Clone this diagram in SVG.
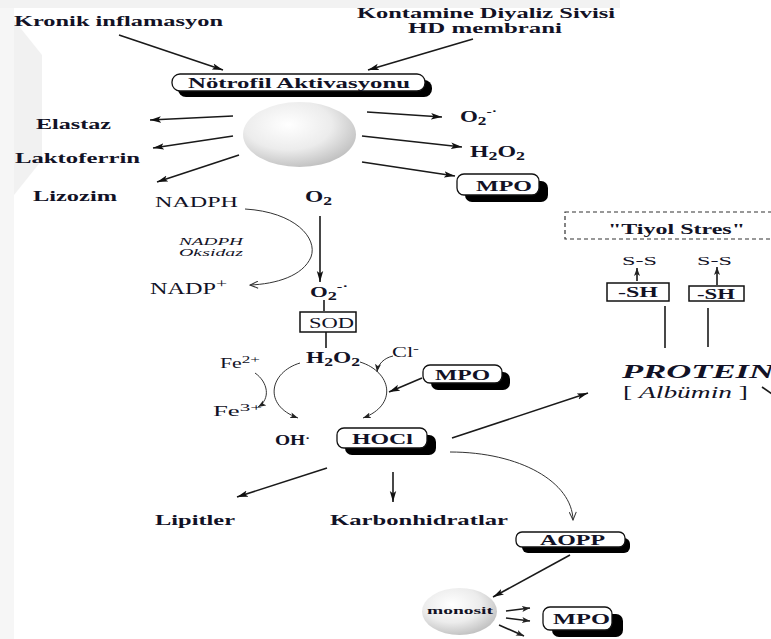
<svg xmlns="http://www.w3.org/2000/svg" width="771" height="639" viewBox="0 0 771 639">
<defs>
<style>
text{font-family:"Liberation Serif","Times New Roman",serif;fill:#121226}
.b{font-weight:bold}
.i{font-style:italic}
.ln{stroke:#1a1a1a;stroke-width:1.6;fill:none}
.thin{stroke:#333;stroke-width:1;fill:none}
.box{fill:#fff;stroke:#111;stroke-width:1.3}
.sh{fill:#000}
.sq{fill:#fff;stroke:#111;stroke-width:1.5}
</style>
<marker id="ah" markerUnits="userSpaceOnUse" markerWidth="12" markerHeight="8" refX="11" refY="4" orient="auto">
<path d="M0,0.8 L11,4 L0,7.2 L2.5,4 z" fill="#111"/>
</marker>
<marker id="ahs" markerUnits="userSpaceOnUse" markerWidth="9" markerHeight="7" refX="8" refY="3.5" orient="auto">
<path d="M0,0.5 L8,3.5 L0,6.5 L2,3.5 z" fill="#222"/>
</marker>
<marker id="ao" markerUnits="userSpaceOnUse" markerWidth="10" markerHeight="8" refX="9" refY="4" orient="auto">
<path d="M1,0.5 L9,4 L1,7.5" fill="none" stroke="#333" stroke-width="1"/>
</marker>
<radialGradient id="sph" cx="40%" cy="35%" r="70%">
<stop offset="0" stop-color="#ffffff"/>
<stop offset="0.55" stop-color="#ececec"/>
<stop offset="1" stop-color="#bdbdbd"/>
</radialGradient>
</defs>

<rect x="0" y="0" width="771" height="639" fill="#ffffff"/>
<rect x="0" y="0" width="14" height="639" fill="#f6f6f6"/>
<rect x="0" y="0" width="620" height="8" fill="#f2f2f2"/>
<polygon points="14,20 42,55 42,160 14,195" fill="#f1f1f1"/>

<g id="connectors">
<line class="ln" x1="119" y1="35" x2="223" y2="70" marker-end="url(#ah)"/>
<line class="ln" x1="473" y1="39" x2="368" y2="70" marker-end="url(#ah)"/>
<line class="ln" x1="233" y1="116" x2="150" y2="120" marker-end="url(#ah)"/>
<line class="ln" x1="233" y1="136" x2="153" y2="148" marker-end="url(#ah)"/>
<line class="ln" x1="239" y1="155" x2="157" y2="182" marker-end="url(#ah)"/>
<line class="ln" x1="367" y1="112" x2="442" y2="117" marker-end="url(#ah)"/>
<line class="ln" x1="362" y1="136" x2="462" y2="147" marker-end="url(#ah)"/>
<line class="ln" x1="362" y1="162" x2="455" y2="176" marker-end="url(#ah)"/>
<line class="ln" x1="320" y1="216" x2="320" y2="282" marker-end="url(#ah)"/>
<path class="thin" d="M245,209 C295,212 318,238 311,257 C303,276 276,284 250,285" marker-end="url(#ao)"/>
<line class="ln" x1="324" y1="300" x2="324" y2="311"/>
<line class="ln" x1="326" y1="332" x2="326" y2="348"/>
<path class="thin" d="M255,373 C268,382 271,399 258,407" marker-end="url(#ahs)"/>
<path class="thin" d="M300,363 C270,372 262,405 298,418" marker-end="url(#ahs)"/>
<path class="thin" d="M360,362 C392,372 398,405 363,418" marker-end="url(#ahs)"/>
<path class="thin" d="M393,356 C384,358 378,364 377,372" marker-end="url(#ahs)"/>
<line class="ln" x1="422" y1="378" x2="389" y2="392" marker-end="url(#ah)"/>
<line class="ln" x1="452" y1="438" x2="588" y2="393" marker-end="url(#ah)"/>
<line class="ln" x1="327" y1="468" x2="237" y2="497" marker-end="url(#ah)"/>
<line class="ln" x1="393" y1="472" x2="393" y2="502" marker-end="url(#ah)"/>
<path class="thin" d="M450,452 C520,452 572,482 573,520" marker-end="url(#ao)"/>
<line class="ln" x1="570" y1="555" x2="493" y2="597" marker-end="url(#ah)"/>
<line class="ln" x1="506" y1="611" x2="530" y2="608" marker-end="url(#ahs)"/>
<line class="ln" x1="506" y1="618" x2="530" y2="621" marker-end="url(#ahs)"/>
<line class="ln" x1="499" y1="625" x2="524" y2="636" marker-end="url(#ahs)"/>
<line class="ln" x1="637" y1="281" x2="637" y2="268" marker-end="url(#ahs)"/>
<line class="ln" x1="717" y1="285" x2="717" y2="267" marker-end="url(#ahs)"/>
<line class="ln" x1="665" y1="306" x2="665" y2="348"/>
<line class="ln" x1="708" y1="308" x2="708" y2="347"/>
<line class="ln" x1="762" y1="387" x2="772" y2="394"/>
</g>

<g id="kronik"><text class="b" x="14" y="26" font-size="15" textLength="209" lengthAdjust="spacingAndGlyphs">Kronik inflamasyon</text></g>
<g id="kontamine">
<text class="b" x="357" y="18" font-size="14" textLength="258" lengthAdjust="spacingAndGlyphs">Kontamine Diyaliz Sivisi</text>
<text class="b" x="408" y="33" font-size="15" textLength="154" lengthAdjust="spacingAndGlyphs">HD membrani</text>
</g>
<g id="notrofil">
<rect class="sh" x="178" y="80" width="254" height="17" rx="8"/>
<rect class="box" x="172" y="74" width="253" height="17" rx="8"/>
<text class="b" x="188" y="88" font-size="14" textLength="222" lengthAdjust="spacingAndGlyphs">Nötrofil Aktivasyonu</text>
</g>
<g id="notrofil-cell"><ellipse cx="299.5" cy="134.5" rx="56.5" ry="32.5" fill="url(#sph)"/></g>
<g id="elastaz"><text class="b" x="36" y="129" font-size="14" textLength="75" lengthAdjust="spacingAndGlyphs">Elastaz</text></g>
<g id="laktoferrin"><text class="b" x="15" y="163" font-size="14" textLength="125" lengthAdjust="spacingAndGlyphs">Laktoferrin</text></g>
<g id="lizozim"><text class="b" x="33" y="201" font-size="14" textLength="84" lengthAdjust="spacingAndGlyphs">Lizozim</text></g>
<g id="o2rad1"><text class="b" x="460" y="122" font-size="16" textLength="37" lengthAdjust="spacingAndGlyphs">O<tspan font-size="12" baseline-shift="-3">2</tspan><tspan font-size="11" baseline-shift="7">-·</tspan></text></g>
<g id="h2o2a"><text class="b" x="470" y="157" font-size="16" textLength="55" lengthAdjust="spacingAndGlyphs">H<tspan font-size="12" baseline-shift="-3">2</tspan>O<tspan font-size="12" baseline-shift="-3">2</tspan></text></g>
<g id="mpo1">
<rect class="sh" x="465" y="181" width="83" height="21" rx="7"/>
<rect class="box" x="457" y="174" width="82" height="21" rx="7"/>
<text class="b" x="476" y="191" font-size="15" textLength="56" lengthAdjust="spacingAndGlyphs">MPO</text>
</g>
<g id="nadph"><text x="155" y="207" font-size="15" textLength="83" lengthAdjust="spacingAndGlyphs">NADPH</text></g>
<g id="o2"><text class="b" x="305" y="202" font-size="16" textLength="27" lengthAdjust="spacingAndGlyphs">O<tspan font-size="12" baseline-shift="-3">2</tspan></text></g>
<g id="oksidaz">
<text class="i" x="211" y="245" font-size="10" text-anchor="middle" textLength="64" lengthAdjust="spacingAndGlyphs">NADPH</text>
<text class="i" x="211" y="256" font-size="10" text-anchor="middle" textLength="64" lengthAdjust="spacingAndGlyphs">Oksidaz</text>
</g>
<g id="nadp"><text x="150" y="294" font-size="16" textLength="77" lengthAdjust="spacingAndGlyphs">NADP<tspan font-size="13" baseline-shift="6">+</tspan></text></g>
<g id="o2rad2"><text class="b" x="310" y="297" font-size="15" textLength="38" lengthAdjust="spacingAndGlyphs">O<tspan font-size="12" baseline-shift="-3">2</tspan><tspan font-size="11" baseline-shift="7">-·</tspan></text></g>
<g id="sod">
<rect class="sq" x="300" y="312" width="56" height="20"/>
<text x="309" y="328" font-size="15" textLength="45" lengthAdjust="spacingAndGlyphs">SOD</text>
</g>
<g id="h2o2b"><text class="b" x="306" y="363" font-size="16" textLength="54" lengthAdjust="spacingAndGlyphs">H<tspan font-size="12" baseline-shift="-3">2</tspan>O<tspan font-size="12" baseline-shift="-3">2</tspan></text></g>
<g id="fe2"><text x="220" y="368" font-size="14" textLength="40" lengthAdjust="spacingAndGlyphs">Fe<tspan font-size="11" baseline-shift="5">2+</tspan></text></g>
<g id="cl"><text x="392" y="357" font-size="14" textLength="27" lengthAdjust="spacingAndGlyphs">Cl<tspan font-size="11" baseline-shift="5">-</tspan></text></g>
<g id="fe3"><text x="213" y="416" font-size="14" textLength="49" lengthAdjust="spacingAndGlyphs">Fe<tspan font-size="11" baseline-shift="5">3+</tspan></text></g>
<g id="mpo2">
<rect class="sh" x="431" y="372" width="79" height="18" rx="7"/>
<rect class="box" x="423" y="365" width="79" height="18" rx="7"/>
<text class="b" x="435" y="380" font-size="14" textLength="55" lengthAdjust="spacingAndGlyphs">MPO</text>
</g>
<g id="oh"><text class="b" x="275" y="445" font-size="15" textLength="35" lengthAdjust="spacingAndGlyphs">OH<tspan font-size="11" baseline-shift="3">·</tspan></text></g>
<g id="hocl">
<rect class="sh" x="345" y="435" width="91" height="20" rx="7"/>
<rect class="box" x="337" y="428" width="90" height="20" rx="7"/>
<text class="b" x="352" y="444" font-size="15" textLength="61" lengthAdjust="spacingAndGlyphs">HOCl</text>
</g>
<g id="tiyol">
<rect x="565" y="212" width="215" height="27" fill="none" stroke="#333" stroke-width="1.2" stroke-dasharray="4,3"/>
<text class="b" x="608" y="234" font-size="14" textLength="137" lengthAdjust="spacingAndGlyphs">"Tiyol Stres"</text>
</g>
<g id="ss1"><text x="622" y="265" font-size="13" textLength="35" lengthAdjust="spacingAndGlyphs">S-S</text></g>
<g id="ss2"><text x="697" y="265" font-size="13" textLength="35" lengthAdjust="spacingAndGlyphs">S-S</text></g>
<g id="sh1">
<rect class="sq" x="607" y="283" width="62" height="18"/>
<text class="b" x="618" y="297" font-size="14" textLength="40" lengthAdjust="spacingAndGlyphs">-SH</text>
</g>
<g id="sh2">
<rect class="sq" x="689" y="286" width="55" height="15"/>
<text class="b" x="697" y="299" font-size="14" textLength="38" lengthAdjust="spacingAndGlyphs">-SH</text>
</g>
<g id="protein">
<text class="b i" x="622" y="378" font-size="19" textLength="152" lengthAdjust="spacingAndGlyphs">PROTEIN</text>
<text x="623" y="398" font-size="16" textLength="125" lengthAdjust="spacingAndGlyphs">[ <tspan class="i">Albümin</tspan> ]</text>
</g>
<g id="lipitler"><text class="b" x="155" y="525" font-size="14" textLength="80" lengthAdjust="spacingAndGlyphs">Lipitler</text></g>
<g id="karbon"><text class="b" x="330" y="525" font-size="14" textLength="178" lengthAdjust="spacingAndGlyphs">Karbonhidratlar</text></g>
<g id="aopp">
<rect class="sh" x="522" y="538" width="108" height="15" rx="6"/>
<rect class="box" x="516" y="532" width="109" height="15" rx="6"/>
<text class="b" x="540" y="545" font-size="14" textLength="65" lengthAdjust="spacingAndGlyphs">AOPP</text>
</g>
<g id="monosit">
<ellipse cx="459.5" cy="611.5" rx="37.5" ry="23.5" fill="url(#sph)"/>
<text class="b" x="460" y="614" font-size="11" text-anchor="middle" textLength="66" lengthAdjust="spacingAndGlyphs">monosit</text>
</g>
<g id="mpo3">
<rect class="sh" x="552" y="614" width="71" height="23" rx="7"/>
<rect class="box" x="543" y="607" width="69" height="23" rx="7"/>
<text class="b" x="553" y="624" font-size="15" textLength="57" lengthAdjust="spacingAndGlyphs">MPO</text>
</g>
</svg>
